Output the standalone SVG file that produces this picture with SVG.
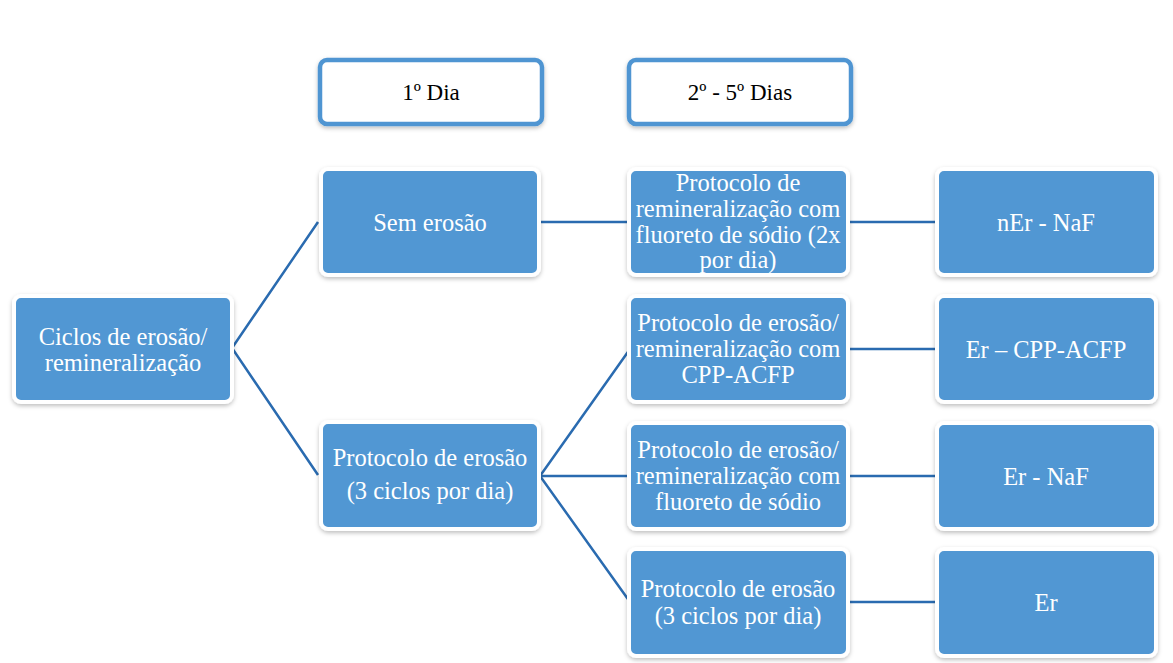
<svg xmlns="http://www.w3.org/2000/svg" width="1173" height="663" viewBox="0 0 1173 663">
<style>
.box{fill:#5197D3;stroke:#fff;stroke-width:4;filter:url(#sh)}
.hdr{fill:#fff;stroke:#4F95D2;stroke-width:4.5;filter:url(#sh)}
.t{font-family:"Liberation Serif","Times New Roman",serif;font-size:24.5px;fill:#fff;text-anchor:middle}
.th{font-family:"Liberation Serif","Times New Roman",serif;font-size:23px;fill:#000;text-anchor:middle}
.c{stroke:#2A6BB0;stroke-width:2.5;fill:none}
</style>
<defs>
<filter id="sh" x="-10%" y="-10%" width="120%" height="130%">
<feDropShadow dx="0" dy="2" stdDeviation="2" flood-color="#000" flood-opacity="0.25"/>
</filter>
</defs>
<rect width="1173" height="663" fill="#fff"/>
<g id="connectors">
<polyline class="c" points="318,222 232,348 318,475"/>
<line class="c" x1="538" y1="222" x2="630" y2="222"/>
<line class="c" x1="848" y1="222" x2="938" y2="222"/>
<polyline class="c" points="630,349 540,476 630,602"/>
<line class="c" x1="540" y1="476" x2="630" y2="476"/>
<line class="c" x1="848" y1="349" x2="938" y2="349"/>
<line class="c" x1="848" y1="476" x2="938" y2="476"/>
<line class="c" x1="848" y1="602" x2="938" y2="602"/>
</g>
<g id="h1"><rect class="hdr" x="320" y="60" width="222" height="64" rx="7"/><text class="th" x="431" y="100">1º Dia</text></g>
<g id="h2"><rect class="hdr" x="629" y="60" width="222" height="64" rx="7"/><text class="th" x="740" y="100">2º - 5º Dias</text></g>
<g id="root"><rect class="box" x="14" y="296" width="218" height="106" rx="7"/><text class="t" x="123" y="345">Ciclos de erosão/</text><text class="t" x="123" y="371">remineralização</text></g>
<g id="n_sem"><rect class="box" x="321" y="169" width="218" height="106" rx="7"/><text class="t" x="430" y="231">Sem erosão</text></g>
<g id="n_ero"><rect class="box" x="321" y="422" width="218" height="107" rx="7"/><text class="t" x="430" y="466">Protocolo de erosão</text><text class="t" x="430" y="499">(3 ciclos por dia)</text></g>
<g id="n_rem"><rect class="box" x="629" y="169" width="219" height="106" rx="7"/><text class="t" x="738" y="191">Protocolo de</text><text class="t" x="738" y="217">remineralização com</text><text class="t" x="738" y="243">fluoreto de sódio (2x</text><text class="t" x="738" y="268">por dia)</text></g>
<g id="n_cpp"><rect class="box" x="629" y="296" width="219" height="106" rx="7"/><text class="t" x="738" y="331">Protocolo de erosão/</text><text class="t" x="738" y="357">remineralização com</text><text class="t" x="738" y="383">CPP-ACFP</text></g>
<g id="n_naf"><rect class="box" x="629" y="423" width="219" height="106" rx="7"/><text class="t" x="738" y="458">Protocolo de erosão/</text><text class="t" x="738" y="484">remineralização com</text><text class="t" x="738" y="510">fluoreto de sódio</text></g>
<g id="n_er3"><rect class="box" x="629" y="549" width="219" height="107" rx="7"/><text class="t" x="738" y="597">Protocolo de erosão</text><text class="t" x="738" y="624">(3 ciclos por dia)</text></g>
<g id="r1"><rect class="box" x="937" y="169" width="219" height="106" rx="7"/><text class="t" x="1046" y="231">nEr - NaF</text></g>
<g id="r2"><rect class="box" x="937" y="296" width="219" height="106" rx="7"/><text class="t" x="1046" y="358">Er – CPP-ACFP</text></g>
<g id="r3"><rect class="box" x="937" y="423" width="219" height="106" rx="7"/><text class="t" x="1046" y="485">Er - NaF</text></g>
<g id="r4"><rect class="box" x="937" y="549" width="219" height="107" rx="7"/><text class="t" x="1046" y="611">Er</text></g>
</svg>
